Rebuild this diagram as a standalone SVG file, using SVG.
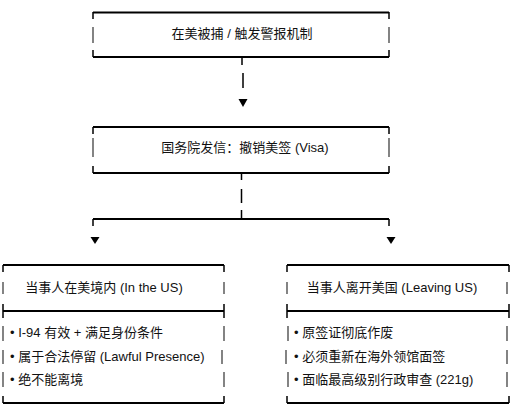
<svg xmlns="http://www.w3.org/2000/svg" width="523" height="412" viewBox="0 0 523 412">
<style>
.h{stroke:#000;stroke-width:2;fill:none}
.t{stroke:#000;stroke-width:1.5;fill:none}
.s{stroke:#333;stroke-width:1.2;fill:none}
text{font-family:"Liberation Sans","Noto Sans CJK SC",sans-serif;font-size:13px;fill:#111}
.c{text-anchor:middle}
.ah{fill:#000}
</style>
<rect width="523" height="412" fill="#fff"/>
<g id="node-arrest">
<path class="h" d="M93 12.5H389"/>
<path class="t" d="M93 12V19M389 12V19M93 50V57M389 50V57"/>
<path class="s" d="M93 27V43M389 27V43"/>
<path class="h" d="M93 57H389"/>
<text class="c" x="242" y="38">在美被捕 / 触发警报机制</text>
</g>
<g id="node-revoke">
<path class="h" d="M93 127H389"/>
<path class="t" d="M93 127V134M389 127V134M93 166V173M389 166V173"/>
<path class="s" d="M93 138V157M389 138V157"/>
<path class="h" d="M93 173H389"/>
<text class="c" x="245" y="152">国务院发信：撤销美签 (Visa)</text>
</g>
<g id="node-inus">
<path class="h" d="M3 265H224"/>
<path class="t" d="M3 265V272M224 265V272M3 304V318M224 304V318M3 396V403M224 396V403"/>
<path class="s" d="M3 282V294M224 282V294M3 326V341M224 326V341M3 350V364M222 350V364M3 372V387M224 372V387"/>
<path class="h" d="M3 311H224"/>
<path class="h" d="M3 403H224"/>
<text class="c" x="104" y="292">当事人在美境内 (In the US)</text>
<text x="10" y="337">• I-94 有效 + 满足身份条件</text>
<text x="10" y="361">• 属于合法停留 (Lawful Presence)</text>
<text x="10" y="384">• 绝不能离境</text>
</g>
<g id="node-leaving">
<path class="h" d="M287 265H509"/>
<path class="t" d="M287 265V272M509 265V272M287 304V318M509 304V318M287 396V403M509 396V403"/>
<path class="s" d="M287 282V294M507 282V294M288 326V341M507 326V341M286 350V364M507 350V364M288 372V387M507 372V387"/>
<path class="h" d="M287 311H509"/>
<path class="h" d="M287 403H509"/>
<text class="c" x="392" y="292">当事人离开美国 (Leaving US)</text>
<text x="294" y="337">• 原签证彻底作废</text>
<text x="294" y="361">• 必须重新在海外领馆面签</text>
<text x="294" y="384">• 面临最高级别行政审查 (221g)</text>
</g>
<g id="connectors">
<path class="t" d="M242 57V65M243 73V88"/>
<polygon class="ah" points="238.5,99 247.5,99 243,107"/>
<path class="t" d="M241.5 173V180M241.5 189V203M241.5 210V219"/>
<path class="h" d="M93 219H389"/>
<path class="t" d="M93 219V226M389 219V226"/>
<polygon class="ah" points="90.5,237 99.5,237 95,244"/>
<polygon class="ah" points="386.5,237 395.5,237 391,244"/>
</g>
</svg>
